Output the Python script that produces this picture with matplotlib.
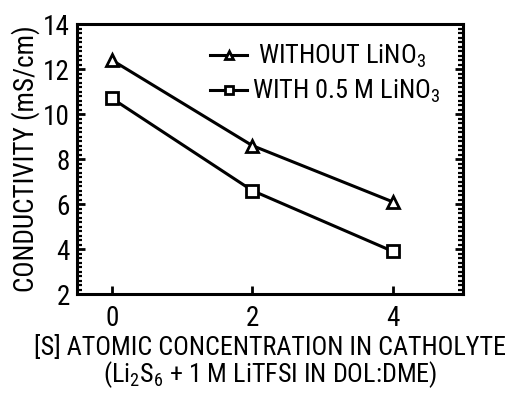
import matplotlib
matplotlib.use('Agg')
import matplotlib.pyplot as plt
from matplotlib.ticker import MultipleLocator

plt.rcParams['font.family'] = ['Roboto Condensed', 'Archivo Narrow', 'DejaVu Sans']
plt.rcParams['mathtext.fontset'] = 'custom'
plt.rcParams['mathtext.rm'] = 'Roboto Condensed'

# data
s_conc = [0, 2, 4]
without_lino3 = [12.4, 8.6, 6.1]
with_lino3 = [10.7, 6.6, 3.9]
labels = [' WITHOUT LiNO$\\mathregular{_3}$', 'WITH 0.5 M LiNO$\\mathregular{_3}$']

fig = plt.figure(figsize=(5.19, 4.09), dpi=100)
ax = fig.add_axes([0.148, 0.281, 0.744, 0.66])

ax.plot(s_conc, without_lino3, '-^', color='k', lw=2.2, ms=8, mfc='white', mew=2, label=labels[0])
ax.plot(s_conc, with_lino3, '-s', color='k', lw=2.2, ms=8, mfc='white', mew=2, label=labels[1])

ax.set_xlim(-0.5, 5)
ax.set_ylim(2, 14)
ax.set_xticks([0, 2, 4])
ax.yaxis.set_major_locator(MultipleLocator(2))
ax.yaxis.set_minor_locator(MultipleLocator(0.2))
ax.tick_params(axis='both', which='major', direction='in', length=6, width=2, labelsize=19.5)
ax.tick_params(axis='y', which='both', right=True)
ax.tick_params(axis='y', which='minor', direction='in', length=3.5, width=1.6)
ax.tick_params(axis='x', which='major', pad=8)
ax.tick_params(axis='y', which='major', pad=5)
for sp in ax.spines.values():
    sp.set_linewidth(2.2)

ax.set_ylabel('CONDUCTIVITY (mS/cm)', fontsize=19.5, labelpad=2)
ax.set_xlabel('[S] ATOMIC CONCENTRATION IN CATHOLYTE\n(Li$\\mathregular{_2}$S$\\mathregular{_6}$ + 1 M LiTFSI IN DOL:DME)',
              fontsize=18.8, linespacing=0.95, labelpad=2)

ax.legend(loc='upper left', bbox_to_anchor=(0.345, 0.93), frameon=False, fontsize=19,
          handlelength=1.4, handletextpad=0.2, labelspacing=0.3, borderaxespad=0, borderpad=0,
          markerscale=0.8)

fig.savefig('out.png', dpi=100)
